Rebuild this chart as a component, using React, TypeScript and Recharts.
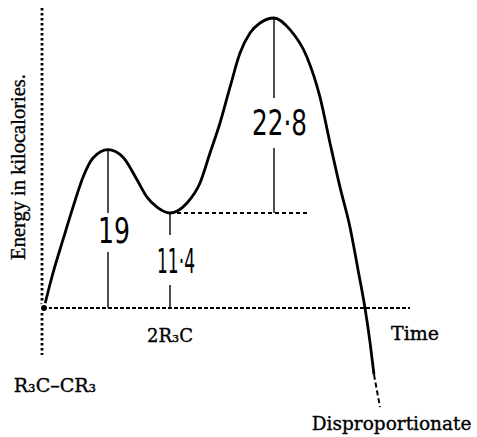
import React from 'react';
import { ComposedChart, Line, XAxis, YAxis, ReferenceLine, ReferenceDot } from 'recharts';

// reaction coordinate (arbitrary time units) and energy (kcal)
const time = [
  0.5, 2.75, 5.25, 7.75, 10.25, 12.75, 16.5, 20.25, 23.75, 26.25, 28.75, 32,
  36.25, 39.5, 42, 44.5, 47, 49.5, 52, 54.5, 58, 62, 66.25, 69.5, 72, 74.5,
  77, 79, 80.75, 82, 83,
];
const energy = [
  0, 4.2, 8.2, 12.1, 15.7, 18.0, 19.0, 18.1, 15.4, 13.3, 12.1, 11.4,
  12.6, 15.0, 18.6, 22.2, 26.5, 30.6, 33.0, 34.2, 34.8, 33.4, 30.1, 25.3, 19.8, 14.5,
  9.7, 4.6, 0, -4.1, -8.0,
];
// dashed continuation below the baseline
const tailTime = [83, 84.5];
const tailEnergy = [-8.0, -11.9];

const barrierLabels = ['19', '11·4', '22·8'];
const yLabel = 'Energy in kilocalories.';
const xLabel = 'Time';
const startLabel = 'R₃C–CR₃';
const radicalLabel = '2R₃C';
const endLabel = 'Disproportionate';

const data = [
  ...time.map((t, i) => ({
    t,
    energy: energy[i],
    tail: t === tailTime[0] ? tailEnergy[0] : null,
  })),
  { t: tailTime[1], energy: null, tail: tailEnergy[1] },
];

const serif = "'DejaVu Serif', serif";
const hand = "'Liberation Sans Narrow', 'DejaVu Sans Condensed', 'Liberation Sans', sans-serif";

// scanned print looks a little heavier than the plain font
const ink = { stroke: '#000', strokeWidth: 0.35 };

const textShape =
  (label: string, style: any, extra: any = {}) =>
  (p: any) =>
    (
      <text x={p.cx} y={p.cy} textAnchor="middle" fill="#000" style={style} {...extra}>
        {label}
      </text>
    );

const rotatedShape = (label: string) => (p: any) =>
  (
    <text
      x={p.cx}
      y={p.cy}
      textAnchor="middle"
      fill="#000"
      transform={`rotate(-90 ${p.cx} ${p.cy})`}
      style={{ fontFamily: "'Liberation Serif', serif", fontSize: 20.5 }}
      {...ink}
    >
      {label}
    </text>
  );

const line = { stroke: '#000', strokeWidth: 1.4 };

export default function App() {
  return (
    <div style={{ position: 'absolute', left: 0, top: 0, width: 477, height: 437, background: '#fff' }}>
      <ComposedChart width={477} height={437} data={data} margin={{ top: 0, right: 0, bottom: 0, left: 0 }}>
        <XAxis type="number" dataKey="t" domain={[-10.5, 108.75]} allowDataOverflow hide />
        <YAxis type="number" domain={[-15.48, 36.96]} allowDataOverflow hide />

        {/* dotted axes */}
        <ReferenceLine segment={[{ x: 0, y: 36 }, { x: 0, y: -5.64 }]} stroke="#000" strokeWidth={2.8} strokeDasharray="2.5 2.5" />
        <ReferenceLine segment={[{ x: 0, y: 0 }, { x: 92, y: 0 }]} stroke="#000" strokeWidth={2} strokeDasharray="4 2" />
        <ReferenceLine segment={[{ x: 32, y: 11.4 }, { x: 66.5, y: 11.4 }]} stroke="#000" strokeWidth={1.8} strokeDasharray="4 3" />

        {/* barrier height markers */}
        <ReferenceLine segment={[{ x: 16.5, y: 19 }, { x: 16.5, y: 11.4 }]} {...line} />
        <ReferenceLine segment={[{ x: 16.5, y: 6.72 }, { x: 16.5, y: 0 }]} {...line} />
        <ReferenceLine segment={[{ x: 32, y: 11.4 }, { x: 32, y: 8.76 }]} {...line} />
        <ReferenceLine segment={[{ x: 32, y: 2.76 }, { x: 32, y: 0 }]} {...line} />
        <ReferenceLine segment={[{ x: 58, y: 34.8 }, { x: 58, y: 25.2 }]} {...line} />
        <ReferenceLine segment={[{ x: 58, y: 19.2 }, { x: 58, y: 11.4 }]} {...line} />

        <Line type="monotone" dataKey="energy" stroke="#000" strokeWidth={2.8} dot={false} isAnimationActive={false} />
        <Line type="monotone" dataKey="tail" stroke="#000" strokeWidth={2} strokeDasharray="5 3" dot={false} isAnimationActive={false} />

        <ReferenceDot x={18} y={7.8} r={0} shape={textShape(barrierLabels[0], { fontFamily: hand, fontSize: 35 }, { textLength: 32, lengthAdjust: 'spacingAndGlyphs' })} />
        <ReferenceDot x={33.5} y={4.2} r={0} shape={textShape(barrierLabels[1], { fontFamily: hand, fontSize: 34 }, { textLength: 38, lengthAdjust: 'spacingAndGlyphs' })} />
        <ReferenceDot x={59.4} y={20.76} r={0} shape={textShape(barrierLabels[2], { fontFamily: hand, fontSize: 35 }, { textLength: 55, lengthAdjust: 'spacingAndGlyphs' })} />

        <ReferenceDot x={-4.25} y={16.92} r={0} shape={rotatedShape(yLabel)} />
        <ReferenceDot x={32} y={-4.08} r={0} shape={textShape(radicalLabel, { fontFamily: serif, fontSize: 18 }, ink)} />
        <ReferenceDot x={93.25} y={-3.84} r={0} shape={textShape(xLabel, { fontFamily: serif, fontSize: 19 }, ink)} />
        <ReferenceDot x={3.25} y={-10.08} r={0} shape={textShape(startLabel, { fontFamily: serif, fontSize: 19 }, ink)} />
        <ReferenceDot x={87.4} y={-14.6} r={0} shape={textShape(endLabel, { fontFamily: serif, fontSize: 18.5 }, ink)} />
      </ComposedChart>
    </div>
  );
}
